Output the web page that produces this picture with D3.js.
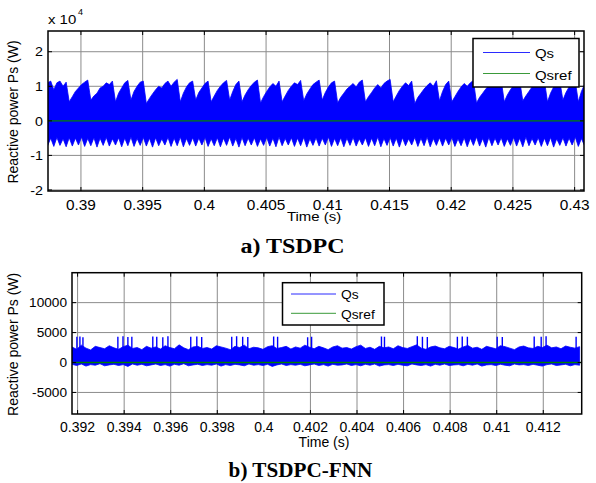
<!DOCTYPE html>
<html><head><meta charset="utf-8">
<script src="https://cdn.jsdelivr.net/npm/d3@7/dist/d3.min.js"></script>
<style>body{margin:0;background:#fff}svg{display:block}</style>
</head><body>
<script>
// ---------- DATA ----------
// Panel a) TSDPC  (values in units of 1e4 W)
const tsdpcXTicks = [0.39, 0.395, 0.4, 0.405, 0.41, 0.415, 0.42, 0.425, 0.43];
const tsdpcXTickLabels = ["0.39","0.395","0.4","0.405","0.41","0.415","0.42","0.425","0.43"];
const tsdpcYTicks = [-2, -1, 0, 1, 2];
const tsdpcXDomain = [0.38733, 0.43076];
const tsdpcYDomain = [-2.03, 2.6];
const tsdpcT0 = 0.3873, tsdpcDt = 0.00025;
// upper envelope of Qs (sawtooth peaks)
const tsdpcQsUpper = [1.1,1.15,0.9,1.1,1.15,1.0,1.12,
 0.55,0.7,0.85,0.95,1.05,1.12,1.18,
 0.6,0.72,0.8,0.95,1.0,1.1,1.05,1.15,
 0.55,0.8,0.95,1.1,1.17,
 0.6,0.85,1.0,1.12,1.15,
 0.5,0.65,0.78,0.9,1.0,0.95,1.08,1.15,1.0,1.12,1.2,
 0.55,0.8,0.98,1.1,1.15,
 0.6,0.82,0.95,1.08,1.15,
 0.55,0.72,0.88,1.0,1.1,1.17,
 0.6,0.85,1.05,1.15,
 0.55,0.75,0.9,1.02,1.12,1.18,
 0.52,0.7,0.85,0.98,1.08,1.0,1.15,
 0.55,0.72,0.88,1.0,1.1,1.05,1.17,
 0.58,0.78,0.92,1.05,1.12,1.18,
 0.6,0.82,0.98,1.1,1.15,
 0.52,0.68,0.8,0.92,1.0,1.08,0.98,1.12,1.18,
 0.55,0.7,0.82,0.95,1.05,0.95,1.08,1.15,1.2,
 0.55,0.72,0.88,1.0,1.1,1.02,1.15,
 0.5,0.68,0.8,0.92,1.02,1.1,1.0,1.16,
 0.58,0.85,1.05,1.15,
 0.55,0.7,0.85,0.98,1.08,1.0,1.1,1.17,
 0.52,0.68,0.8,0.92,1.02,1.1,1.0,1.12,1.18,
 0.55,0.75,0.9,1.02,1.1,1.16,
 0.58,0.72,0.85,0.98,1.06,0.98,1.1,1.17,
 0.55,0.8,0.98,1.1,1.15,
 0.6,0.82,0.98,1.1,1.16,
 0.55,0.85,1.05];
// lower envelope of Qs (downward teeth)
const tsdpcQsLower = [-0.72,-0.50,-0.74,-0.48,-0.71,-0.52,-0.75,-0.49,-0.73,-0.50,
 -0.70,-0.47,-0.74,-0.51,-0.72,-0.49,-0.76,-0.50,-0.71,-0.48,
 -0.73,-0.52,-0.70,-0.49,-0.75,-0.50,-0.72,-0.47,-0.74,-0.51,
 -0.71,-0.48,-0.73,-0.50,-0.76,-0.49,-0.72,-0.52,-0.70,-0.48,
 -0.74,-0.50,-0.72,-0.47,-0.75,-0.51,-0.71,-0.49,-0.73,-0.50,
 -0.70,-0.48,-0.74,-0.52,-0.72,-0.49,-0.75,-0.50,-0.71,-0.47,
 -0.73,-0.51,-0.76,-0.48,-0.72,-0.50,-0.70,-0.49,-0.74,-0.52,
 -0.71,-0.48,-0.73,-0.50,-0.75,-0.47,-0.72,-0.51,-0.70,-0.49,
 -0.74,-0.50,-0.72,-0.48,-0.76,-0.52,-0.71,-0.49,-0.73,-0.50,
 -0.70,-0.47,-0.74,-0.51,-0.72,-0.49,-0.75,-0.50,-0.71,-0.48,
 -0.73,-0.52,-0.70,-0.49,-0.74,-0.50,-0.72,-0.47,-0.75,-0.51,
 -0.71,-0.48,-0.73,-0.50,-0.76,-0.49,-0.72,-0.52,-0.70,-0.48,
 -0.74,-0.50,-0.72,-0.47,-0.75,-0.51,-0.71,-0.49,-0.73,-0.50,
 -0.70,-0.48,-0.74,-0.52,-0.72,-0.49,-0.75,-0.50,-0.71,-0.47,
 -0.73,-0.51,-0.76,-0.48,-0.72,-0.50,-0.70,-0.49,-0.74,-0.52,
 -0.71,-0.48,-0.73,-0.50,-0.75,-0.47,-0.72,-0.51,-0.70,-0.49,
 -0.74,-0.50,-0.72,-0.48,-0.76,-0.52,-0.71,-0.49,-0.73,-0.50,
 -0.70,-0.47,-0.74,-0.51,-0.72];
const tsdpcQsref = 0;

// Panel b) TSDPC-FNN  (values in W)
const fnnXTicks = [0.392,0.394,0.396,0.398,0.4,0.402,0.404,0.406,0.408,0.41,0.412];
const fnnXTickLabels = ["0.392","0.394","0.396","0.398","0.4","0.402","0.404","0.406","0.408","0.41","0.412"];
const fnnYTicks = [-5000, 0, 5000, 10000];
const fnnXDomain = [0.39176, 0.41365];
const fnnYDomain = [-8600, 15000];
const fnnT0 = 0.39176, fnnDt = 0.0002;
const fnnQsUpper = [2600,2200,2900,2400,2100,2700,2500,2300,2800,2450,
 2200,2650,2900,2350,2500,2150,2700,2400,2600,2250,
 2800,2500,2300,2950,2450,2150,2600,2700,2350,2500,
 2250,2800,2600,2400,2150,2700,2500,2900,2300,2550,
 2450,2200,2650,2800,2350,2500,2700,2250,2600,2400,
 2900,2550,2300,2700,2450,2150,2600,2800,2400,2500,
 2250,2650,2900,2350,2550,2200,2700,2450,2600,2300,
 2800,2500,2350,2650,2950,2400,2200,2600,2750,2450,
 2300,2700,2500,2250,2600,2850,2400,2550,2200,2700,
 2500,2300,2800,2650,2400,2150,2600,2750,2450,2350,
 2700,2500,2900,2450,2600,2300,2750,2550,2400,2650];
const fnnQsLower = [-300,-500,-250,-600,-350,-450,-200,-550,-400,-300,
 -500,-350,-650,-250,-450,-300,-550,-400,-250,-500,
 -350,-600,-300,-450,-200,-550,-400,-300,-500,-350,
 -450,-250,-600,-350,-500,-300,-400,-550,-250,-450,
 -350,-500,-300,-650,-400,-250,-500,-350,-450,-300,
 -550,-400,-250,-500,-350,-600,-300,-450,-400,-250,
 -500,-350,-550,-300,-450,-250,-600,-400,-350,-500,
 -300,-450,-550,-250,-400,-500,-350,-600,-300,-450,
 -250,-500,-400,-350,-550,-300,-450,-250,-600,-400,
 -350,-500,-300,-450,-550,-250,-400,-350,-500,-300,
 -450,-600,-350,-250,-500,-400,-300,-550,-350,-450];
const fnnSpikeTimes = [0.39197,0.39210,0.39223,0.39373,0.39395,0.39416,0.39433,0.39523,0.39540,0.39566,0.39588,
 0.39686,0.39712,0.39733,0.39862,0.39883,0.39909,0.39931,0.40042,0.40059,0.40188,0.40205,0.40505,0.40518,
 0.40659,0.40681,0.40702,0.40831,0.40852,0.40874,0.41002,0.41024,0.41161,0.41191,0.41212,0.41341];
const fnnSpikeValues = [4300,4350,4200,4300,4400,4250,4300,4350,4300,4200,4400,
 4300,4350,4250,4300,4400,4300,4250,4350,4300,4200,4300,4350,4300,
 4400,4300,4250,4300,4350,4300,4300,4250,4350,4300,4400,4300];
const fnnQsref = 0;

const legendLabels = ["Qs", "Qsref"];
const yLabel = "Reactive power Ps (W)";
const xLabel = "Time (s)";

// ---------- DRAW ----------
const W = 596, H = 483;
const svg = d3.select("body").append("svg").attr("width", W).attr("height", H);
const BLUE = "#0000ff", GREEN = "#008000", GRID = "#8c8c8c";

function text(g, x, y, s, o) {
  o = o || {};
  const t = g.append("text")
    .attr("transform", `translate(${x},${y}) rotate(${o.rot||0}) scale(${o.sx||1},1)`)
    .attr("font-family", o.family || "Arial, 'Liberation Sans', sans-serif")
    .attr("font-size", o.size || 13)
    .attr("font-weight", o.weight || "normal")
    .attr("text-anchor", o.anchor || "middle")
    .attr("fill", "#000")
    .text(s);
  if (o.dy) t.attr("dy", o.dy);
  return t;
}

function panel(cfg) {
  const g = svg.append("g");
  const x = d3.scaleLinear().domain(cfg.xDomain).range([cfg.left, cfg.right]);
  const y = d3.scaleLinear().domain(cfg.yDomain).range([cfg.bottom, cfg.top]);
  const clipId = "clip" + cfg.id;
  svg.append("clipPath").attr("id", clipId).append("rect")
    .attr("x", cfg.left).attr("y", cfg.top)
    .attr("width", cfg.right - cfg.left).attr("height", cfg.bottom - cfg.top);

  // grid
  g.append("g").selectAll("line").data(cfg.xTicks).join("line")
    .attr("x1", d => x(d)).attr("x2", d => x(d))
    .attr("y1", cfg.top).attr("y2", cfg.bottom)
    .attr("stroke", GRID).attr("stroke-width", 1);
  g.append("g").selectAll("line").data(cfg.yTicks).join("line")
    .attr("y1", d => y(d)).attr("y2", d => y(d))
    .attr("x1", cfg.left).attr("x2", cfg.right)
    .attr("stroke", GRID).attr("stroke-width", 1);

  // signal
  const sg = g.append("g").attr("clip-path", `url(#${clipId})`);
  const idx = d3.range(cfg.upper.length);
  const area = d3.area()
    .x(i => x(cfg.t0 + i * cfg.dt))
    .y0(i => y(cfg.lower[i]))
    .y1(i => y(cfg.upper[i]));
  sg.append("path").attr("d", area(idx)).attr("fill", BLUE)
    .attr("stroke", BLUE).attr("stroke-width", 0.8);
  if (cfg.spikes) {
    sg.append("g").selectAll("line").data(cfg.spikes.t).join("line")
      .attr("x1", d => x(d)).attr("x2", d => x(d))
      .attr("y1", y(1500)).attr("y2", (d, i) => y(cfg.spikes.v[i]))
      .attr("stroke", BLUE).attr("stroke-width", 1.4);
  }
  sg.append("line").attr("x1", cfg.left).attr("x2", cfg.right)
    .attr("y1", y(cfg.ref)).attr("y2", y(cfg.ref))
    .attr("stroke", GREEN).attr("stroke-width", 1.3);

  // frame
  g.append("rect").attr("x", cfg.left).attr("y", cfg.top)
    .attr("width", cfg.right - cfg.left).attr("height", cfg.bottom - cfg.top)
    .attr("fill", "none").attr("stroke", "#000").attr("stroke-width", 1.5);
  // inward tick marks
  const tk = 4;
  g.append("g").selectAll("path").data(cfg.xTicks).join("path")
    .attr("d", d => `M${x(d)},${cfg.bottom}v${-tk}M${x(d)},${cfg.top}v${tk}`)
    .attr("stroke", "#000").attr("stroke-width", 1);
  g.append("g").selectAll("path").data(cfg.yTicks).join("path")
    .attr("d", d => `M${cfg.left},${y(d)}h${tk}M${cfg.right},${y(d)}h${-tk}`)
    .attr("stroke", "#000").attr("stroke-width", 1);

  // tick labels
  cfg.xTicks.forEach((d, i) => text(g, x(d), cfg.xLabelY, cfg.xTickLabels[i], {size: cfg.xTickSize, sx: cfg.xTickSx}));
  cfg.yTicks.forEach(d => text(g, cfg.left - 5, y(d), cfg.yFmt(d), {size: cfg.yTickSize, anchor: "end", dy: "0.36em", sx: cfg.yTickSx}));

  // axis titles
  text(g, 17.5, (cfg.top + cfg.bottom) / 2 + 1, yLabel, {size: 14, rot: -90});
  text(g, cfg.xTitleX, cfg.xTitleY, xLabel, {size: cfg.xTitleSize, sx: cfg.xTitleSx});

  // legend
  const L = cfg.legend;
  g.append("rect").attr("x", L.x0).attr("y", L.y0).attr("width", L.x1 - L.x0).attr("height", L.y1 - L.y0)
    .attr("fill", "#fff").attr("stroke", "#000").attr("stroke-width", 1.5);
  [BLUE, GREEN].forEach((c, i) => {
    g.append("line").attr("x1", L.lx0).attr("x2", L.lx1).attr("y1", L.ly[i]).attr("y2", L.ly[i])
      .attr("stroke", c === BLUE ? "#2b2bff" : "#3a9a3a").attr("stroke-width", 1);
    text(g, L.tx, L.ty[i], legendLabels[i], {size: L.size, anchor: "start", sx: L.sx});
  });
  return {g, x, y};
}

const pa = panel({
  id: "a", left: 48, right: 584, top: 31, bottom: 191,
  xDomain: tsdpcXDomain, yDomain: tsdpcYDomain,
  xTicks: tsdpcXTicks, xTickLabels: tsdpcXTickLabels, yTicks: tsdpcYTicks,
  yFmt: d => d3.format("d")(d).replace("\u2212", "-"),
  t0: tsdpcT0, dt: tsdpcDt, upper: tsdpcQsUpper, lower: tsdpcQsLower, ref: tsdpcQsref,
  xLabelY: 210, xTickSize: 14, xTickSx: 1.1, yTickSize: 13, yTickSx: 1.1,
  xTitleX: 314, xTitleY: 221, xTitleSize: 13, xTitleSx: 1.15,
  legend: {x0: 473, x1: 579, y0: 38.5, y1: 87, lx0: 483, lx1: 530, ly: [52.5, 73.5], tx: 535, ty: [58, 79.5], size: 13, sx: 1.15}
});
// exponent label x 10^4
const ex = svg.append("g");
text(ex, 48, 24, "x 10", {size: 13, anchor: "start", sx: 1.15});
text(ex, 78, 14.5, "4", {size: 9, anchor: "start"});
text(svg, 292.5, 252.5, "a) TSDPC", {size: 20, weight: "bold", family: "'Liberation Serif', 'Times New Roman', serif", sx: 1.2});

const pb = panel({
  id: "b", left: 72, right: 581.7, top: 272.7, bottom: 414,
  xDomain: fnnXDomain, yDomain: fnnYDomain,
  xTicks: fnnXTicks, xTickLabels: fnnXTickLabels, yTicks: fnnYTicks,
  yFmt: d => d3.format("d")(d).replace("\u2212", "-"),
  t0: fnnT0, dt: fnnDt, upper: fnnQsUpper, lower: fnnQsLower, ref: fnnQsref,
  spikes: {t: fnnSpikeTimes, v: fnnSpikeValues},
  xLabelY: 431.5, xTickSize: 14, xTickSx: 1.0, yTickSize: 13, yTickSx: 1.05,
  xTitleX: 324, xTitleY: 447, xTitleSize: 14, xTitleSx: 1.0,
  legend: {x0: 282.5, x1: 384, y0: 282.7, y1: 325, lx0: 291, lx1: 336, ly: [294, 313.3], tx: 341, ty: [299, 319], size: 12, sx: 1.15}
});
text(svg, 300.5, 477, "b) TSDPC-FNN", {size: 20, weight: "bold", family: "'Liberation Serif', 'Times New Roman', serif", sx: 1.06});
</script>
</body></html>
